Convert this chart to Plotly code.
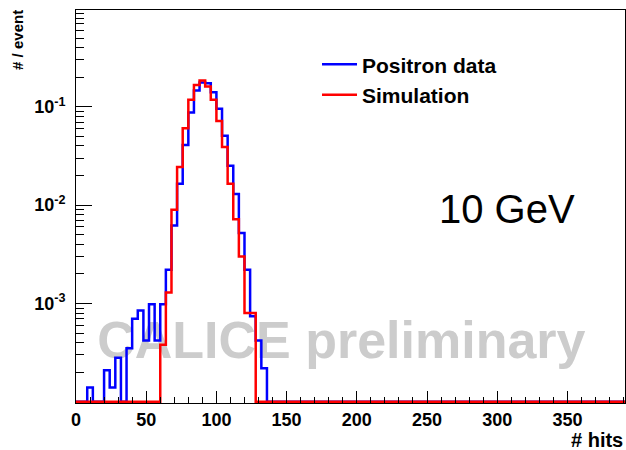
import plotly.graph_objects as go

# Histogram binning (hits per event)
BIN_WIDTH = 4
X_MAX = 392
FLOOR = 1e-4  # empty bins are drawn on the bottom of the log axis

# Positron data: fraction of events per 4-hit bin, first bin starts at 8 hits
data_first_edge = 8
data_vals = [1.4e-4, 0, 0, 2.1e-4, 1.4e-4, 2.8e-4, 0, 3.5e-4, 7.0e-4, 8.5e-4,
             4.2e-4, 9.8e-4, 4.2e-4, 9.8e-4, 2.2e-3, 6.2e-3, 0.0165, 0.041,
             0.0875, 0.147, 0.177, 0.174, 0.141, 0.0955, 0.0508, 0.0252,
             0.013, 0.0052, 0.0022, 7.4e-4, 4.2e-4, 2.2e-4]

# Simulation: fraction of events per 4-hit bin, first bin starts at 60 hits
sim_first_edge = 60
sim_vals = [3.8e-4, 1.29e-3, 0.009, 0.0244, 0.0607, 0.118, 0.167, 0.185,
            0.161, 0.118, 0.072, 0.039, 0.0165, 0.0072, 0.003, 8.0e-4, 8.0e-4]

x_tick_vals = [0, 50, 100, 150, 200, 250, 300, 350]
y_tick_vals = [1e-3, 1e-2, 1e-1]
y_tick_text = ["10<sup>-3</sup>", "10<sup>-2</sup>", "10<sup>-1</sup>"]


def full_histogram(first_edge, vals):
    n_bins = X_MAX // BIN_WIDTH
    contents = [0.0] * n_bins
    start = first_edge // BIN_WIDTH
    for i, v in enumerate(vals):
        contents[start + i] = v
    edges = [i * BIN_WIDTH for i in range(n_bins + 1)]
    ys = [c if c > 0 else FLOOR for c in contents]
    ys.append(ys[-1])
    return edges, ys


data_x, data_y = full_histogram(data_first_edge, data_vals)
sim_x, sim_y = full_histogram(sim_first_edge, sim_vals)

font_family = "Liberation Sans, Arial, sans-serif"

fig = go.Figure()

# Watermark sits underneath the histograms
fig.add_trace(go.Scatter(
    x=[189], y=[3.8e-4], mode="text", text=["CALICE preliminary"],
    textfont=dict(family=font_family, size=52, color="#cccccc", weight="bold"),
    showlegend=False, hoverinfo="skip",
))

fig.add_trace(go.Scatter(
    x=data_x, y=data_y, mode="lines", line_shape="hv",
    line=dict(color="#0000ff", width=2.5), name="Positron data",
))
fig.add_trace(go.Scatter(
    x=sim_x, y=sim_y, mode="lines", line_shape="hv",
    line=dict(color="#ff0000", width=2.5), name="Simulation",
))

# Minor ticks on the log axis: 2..9 within every decade
minor_y = [m * 10.0 ** e for e in range(-4, 0) for m in range(2, 10)]

fig.update_layout(
    width=626, height=450,
    margin=dict(l=76, r=1, t=10, b=47),
    paper_bgcolor="white", plot_bgcolor="white",
    font=dict(family=font_family, color="black"),
    showlegend=True,
    legend=dict(
        x=0.439, y=0.913, xanchor="left", yanchor="top",
        bgcolor="rgba(0,0,0,0)", borderwidth=0, itemwidth=35,
        font=dict(family=font_family, size=21, color="black", weight="bold"),
    ),
    xaxis=dict(
        range=[0, 391], tickvals=x_tick_vals, ticks="inside", ticklen=12,
        tickwidth=1, tickcolor="black",
        minor=dict(dtick=10, tick0=0, ticks="inside", ticklen=6,
                   tickwidth=1, tickcolor="black"),
        showline=True, linecolor="black", linewidth=1, mirror=True,
        showgrid=False, zeroline=False,
        tickfont=dict(family=font_family, size=18, weight="bold"),
        ticklabelstandoff=0,
    ),
    yaxis=dict(
        type="log", range=[-4.012, -0.015],
        tickvals=y_tick_vals, ticktext=y_tick_text,
        ticks="inside", ticklen=16, tickwidth=1, tickcolor="black",
        minor=dict(tickvals=minor_y, ticks="inside", ticklen=8,
                   tickwidth=1, tickcolor="black"),
        showline=True, linecolor="black", linewidth=1, mirror=True,
        showgrid=False, zeroline=False,
        tickfont=dict(family=font_family, size=18, weight="bold"),
        ticklabelstandoff=6,
    ),
    annotations=[
        dict(text="10 GeV", x=0.785, y=0.494, xref="paper", yref="paper",
             xanchor="center", yanchor="middle", showarrow=False,
             font=dict(family=font_family, size=40, color="black")),
        dict(text="# hits", x=1.0, y=-0.094, xref="paper", yref="paper",
             xanchor="right", yanchor="middle", showarrow=False,
             font=dict(family=font_family, size=20, color="black", weight="bold")),
        dict(text="# / event", x=-0.107, y=1.006, xref="paper", yref="paper",
             xanchor="center", yanchor="top", textangle=-90, showarrow=False,
             font=dict(family=font_family, size=15, color="black", weight="bold")),
    ],
)

fig.write_html("out.html")
